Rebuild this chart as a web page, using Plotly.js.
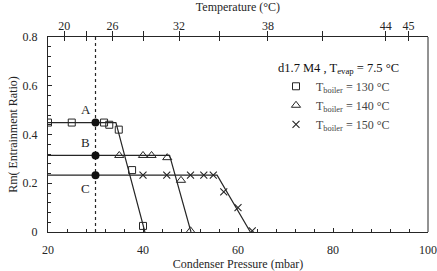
<!DOCTYPE html>
<html>
<head>
<meta charset="utf-8">
<script src="https://cdn.plot.ly/plotly-3.0.1.min.js"></script>
<style>html,body{margin:0;padding:0;background:#fff;}#chart{width:437px;height:271px;}</style>
</head>
<body>
<div id="chart"></div>
<script>
// Measured points (condenser pressure in mbar, entrainment ratio Rm)
const pressure130 = [20, 25, 31.8, 32.9, 34.9, 37.7, 40];
const rm130       = [0.449, 0.449, 0.449, 0.44, 0.42, 0.254, 0.025];
const pressure140 = [35, 40, 41.8, 45.1, 48, 50];
const rm140       = [0.314, 0.314, 0.314, 0.305, 0.212, 0.005];
const pressure150 = [40, 45, 50, 52.8, 54.8, 57, 60, 63];
const rm150       = [0.233, 0.233, 0.233, 0.233, 0.233, 0.165, 0.10, 0.005];

// Fitted characteristic lines
const fit130x = [20, 34.3, 40.4];  const fit130y = [0.449, 0.449, 0];
const fit140x = [20, 45.6, 50.1];  const fit140y = [0.314, 0.314, 0];
const fit150x = [20, 55.6, 62.6];  const fit150y = [0.233, 0.233, 0];

// Operating points A, B, C at design condenser pressure
const opPressure = [30, 30, 30];
const opRm = [0.449, 0.314, 0.233];
const opLabels = ['A', 'B', 'C'];
const designLineX = [30, 30];
const designLineY = [0, 0.8];

// Axis ticks
const pressureTicks = [20, 40, 60, 80, 100];
const rmTicks = [0, 0.2, 0.4, 0.6, 0.8];
const rmTickText = ['0', '0.2', '0.4', '0.6', '0.8'];

// Top temperature axis: saturation pressure (mbar) of labelled temperatures
const tempLabels = ['20', '26', '32', '38', '44', '45'];
const tempPressures = [23.4, 33.6, 47.6, 66.3, 91.1, 95.9];
const minorTempPressures = [28.1, 40.1, 56.2, 77.8]; // 23, 29, 35, 41 °C

const seriesNames = ['T<sub>boiler</sub> = 130 °C', 'T<sub>boiler</sub> = 140 °C', 'T<sub>boiler</sub> = 150 °C'];
const legendTitle = 'd1.7 M4 , T<sub>evap</sub> = 7.5 °C';

const ink = '#262626';
const clear = 'rgba(0,0,0,0)';
const font = 'Liberation Serif, Times New Roman, serif';

const lineStyle = {color: ink, width: 1.2};
const anchor = (ax) => Object.assign({x: [20, 100], y: [0, 0], mode: 'markers', marker: {opacity: 0},
  showlegend: false, hoverinfo: 'skip'}, ax);
const traces = [
  {x: fit130x, y: fit130y, mode: 'lines', line: lineStyle, showlegend: false, hoverinfo: 'skip'},
  {x: fit140x, y: fit140y, mode: 'lines', line: lineStyle, showlegend: false, hoverinfo: 'skip'},
  {x: fit150x, y: fit150y, mode: 'lines', line: lineStyle, showlegend: false, hoverinfo: 'skip'},
  {x: designLineX, y: designLineY, mode: 'lines', line: {color: ink, width: 1.2, dash: '3px,3px'}, showlegend: false, hoverinfo: 'skip'},
  {x: pressure130, y: rm130, mode: 'markers', name: seriesNames[0],
   marker: {symbol: 'square-open', size: 7, color: ink, line: {width: 1, color: ink}}},
  {x: pressure140, y: rm140, mode: 'markers', name: seriesNames[1],
   marker: {symbol: 'triangle-up-open', size: 8, color: ink, line: {width: 1, color: ink}}},
  {x: pressure150, y: rm150, mode: 'markers', name: seriesNames[2],
   marker: {symbol: 'x-thin-open', size: 7, color: ink, line: {width: 1.1, color: ink}}},
  {x: opPressure, y: opRm, mode: 'markers', showlegend: false,
   marker: {symbol: 'circle', size: 8, color: '#111'}},
  anchor({xaxis: 'x2'}), anchor({xaxis: 'x3'}), anchor({xaxis: 'x4'}),
  anchor({xaxis: 'x5'}), anchor({yaxis: 'y2'})
];

const topTickVals = tempPressures.concat(minorTempPressures);

const labelShifts = [[-10, 13], [-10, 13], [-10, -13]];
const annotations = opLabels.map((t, i) => ({
  x: opPressure[i], y: opRm[i], xref: 'x', yref: 'y', text: t, showarrow: false,
  xshift: labelShifts[i][0], yshift: labelShifts[i][1],
  font: {family: font, size: 13, color: ink}
}));

const layout = {
  width: 437, height: 271,
  margin: {l: 48, r: 9, t: 37, b: 39},
  paper_bgcolor: '#fff', plot_bgcolor: '#fff',
  font: {family: font, size: 12, color: ink},
  xaxis: {
    range: [20, 100], tickvals: pressureTicks, ticks: 'outside', ticklen: 7, tickcolor: clear,
    showline: true, linecolor: ink, linewidth: 1, showgrid: false, zeroline: false,
    title: {text: 'Condenser Pressure (mbar)', font: {family: font, size: 12, color: ink}, standoff: 2},
    tickfont: {family: font, size: 12, color: ink}
  },
  xaxis5: {
    overlaying: 'x', side: 'bottom', range: [20, 100], anchor: 'y',
    tickvals: pressureTicks, ticks: 'inside', ticklen: 4, tickcolor: ink,
    minor: {dtick: 4, tick0: 20, ticks: 'inside', ticklen: 3, tickcolor: ink, showgrid: false},
    showline: false, showgrid: false, zeroline: false, showticklabels: false
  },
  yaxis: {
    range: [0, 0.8], tickvals: rmTicks, ticktext: rmTickText,
    ticks: 'outside', ticklen: 7, tickcolor: clear,
    showline: true, linecolor: ink, linewidth: 1, showgrid: false, zeroline: false,
    title: {text: 'Rm( Entrainment Ratio)', font: {family: font, size: 12, color: ink}, standoff: 2},
    tickfont: {family: font, size: 12, color: ink}
  },
  yaxis2: {
    overlaying: 'y', side: 'left', range: [0, 0.8], anchor: 'x',
    tickvals: rmTicks, ticks: 'inside', ticklen: 4, tickcolor: ink,
    minor: {dtick: 0.04, tick0: 0, ticks: 'inside', ticklen: 3, tickcolor: ink, showgrid: false},
    showline: false, showgrid: false, zeroline: false, showticklabels: false
  },
  xaxis2: {
    overlaying: 'x', side: 'top', range: [20, 100], anchor: 'y',
    tickvals: tempPressures, ticktext: tempLabels, ticks: 'outside', ticklen: 1, tickcolor: clear,
    showline: true, linecolor: ink, linewidth: 1, showgrid: false, zeroline: false,
    tickfont: {family: font, size: 12, color: ink},
    title: {text: 'Temperature (°C)', font: {family: font, size: 12, color: ink}, standoff: 8}
  },
  xaxis3: {
    overlaying: 'x', side: 'top', range: [20, 100], anchor: 'y',
    tickvals: topTickVals, ticks: 'inside', ticklen: 4, tickcolor: ink,
    showline: false, showgrid: false, zeroline: false, showticklabels: false
  },
  xaxis4: {
    overlaying: 'x', side: 'top', range: [20, 100], anchor: 'y',
    tickvals: topTickVals, ticks: 'outside', ticklen: 5, tickcolor: ink,
    showline: false, showgrid: false, zeroline: false, showticklabels: false
  },
  shapes: [
    {type: 'line', xref: 'paper', yref: 'paper', x0: 1, x1: 1, y0: 0, y1: 1, line: {color: ink, width: 1}}
  ],
  showlegend: true,
  legend: {
    x: 0.6, y: 0.905, xanchor: 'left', yanchor: 'top',
    bgcolor: 'rgba(0,0,0,0)', borderwidth: 0,
    font: {family: font, size: 12, color: '#444'},
    title: {text: legendTitle, font: {family: font, size: 12.5, color: '#111'}},
    itemwidth: 30, tracegroupgap: 0
  },
  annotations: annotations
};

Plotly.newPlot('chart', traces, layout, {displayModeBar: false, staticPlot: true});
</script>
</body>
</html>
